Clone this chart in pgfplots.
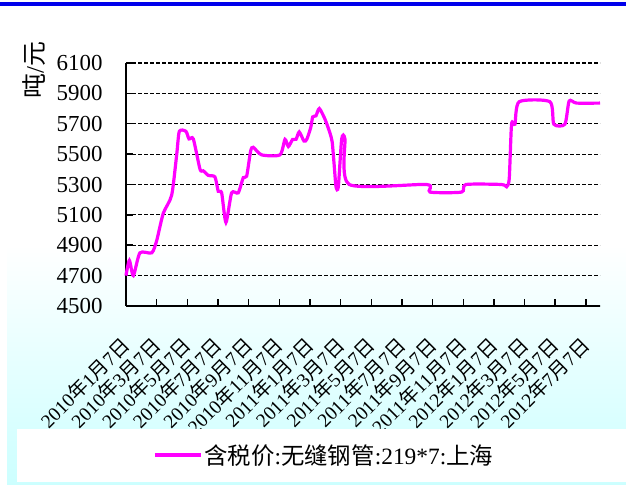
\documentclass[border=0pt]{standalone}
\usepackage{fontspec}
\setmainfont{Liberation Serif}
\newfontfamily\cjk{Noto Sans CJK SC}
\usepackage{pgfplots}
\pgfplotsset{compat=1.18}
\definecolor{mag}{RGB}{255,0,255}
\definecolor{bgcyan}{RGB}{204,255,255}
\definecolor{topblue}{RGB}{0,0,235}
\newcommand\lab[2]{#1{\cjk 年}#2{\cjk 月}7{\cjk 日}}
\begin{document}
\begin{tikzpicture}
\begin{axis}[
  set layers,
  at={(126bp,179bp)}, anchor=south west,
  scale only axis, width=474bp, height=243bp,
  clip=false,
  xmin=0, xmax=30.92, ymin=4500, ymax=6100,
  axis x line=bottom, axis y line=left,
  axis line style={line width=1.5bp, -},
  xtick={0,2,...,30},
  xticklabels={\lab{2010}{1},\lab{2010}{3},\lab{2010}{5},\lab{2010}{7},\lab{2010}{9},\lab{2010}{11},
               \lab{2011}{1},\lab{2011}{3},\lab{2011}{5},\lab{2011}{7},\lab{2011}{9},\lab{2011}{11},
               \lab{2012}{1},\lab{2012}{3},\lab{2012}{5},\lab{2012}{7}},
  ytick={4500,4700,...,6100},
  tick align=inside, major tick length=7bp,
  tick style={line width=1.5bp, black},
  ymajorgrids,
  grid style={black, line width=1.2bp, dash pattern=on 4bp off 2bp},
  /pgf/number format/assume math mode=true,
  /pgf/number format/1000 sep={},
  yticklabel style={font=\fontsize{23}{26}\selectfont, anchor=east, xshift=-20bp},
  xticklabel style={font=\fontsize{19.5}{22}\selectfont, rotate=45, anchor=north east, inner sep=1bp, xshift=-24bp, yshift=-15bp},
  ylabel={{\cjk 吨}/{\cjk 元}},
  every axis y label/.style={at={(rel axis cs:-0.194,0.971)}, rotate=90, anchor=center, font=\fontsize{25}{27}\selectfont},
  legend style={at={(0.057,-0.613)}, anchor=west, inner sep=0pt, draw=none, fill=none,
                font=\fontsize{23.5}{26}\selectfont},
  legend image code/.code={\draw[#1] (0bp,0bp) -- (46bp,0bp);},
]
\begin{pgfonlayer}{axis background}
\shade[top color=white, bottom color=bgcyan] (rel axis cs:-0.251,-0.737) rectangle (rel axis cs:1.1,0.251);
\end{pgfonlayer}
\addplot[mag, line width=3.2bp, smooth, tension=0.4] coordinates {
(0.00,4700) (0.22,4800) (0.48,4700) (0.91,4850) (1.68,4850) (2.00,4930)
(2.43,5110) (2.98,5230) (3.31,5500) (3.48,5650) (3.91,5650) (4.11,5600)
(4.39,5600) (4.83,5400) (5.04,5390) (5.37,5360) (5.80,5350) (6.02,5255)
(6.24,5245) (6.52,5050) (6.89,5245) (7.32,5245) (7.65,5345) (7.87,5355)
(8.13,5520) (8.30,5545) (8.85,5495) (10.04,5495) (10.37,5597) (10.59,5550)
(10.87,5597) (11.09,5597) (11.30,5646) (11.61,5586) (11.79,5597) (12.05,5675)
(12.18,5745) (12.39,5752) (12.61,5800) (12.98,5730) (13.30,5640) (13.45,5580)
(13.57,5440) (13.70,5285) (13.85,5285) (14.07,5600) (14.28,5600) (14.56,5300)
(19.61,5300) (19.83,5250) (21.89,5250) (22.17,5300) (24.50,5300) (24.83,5285)
(25.00,5340) (25.15,5697) (25.37,5697) (25.65,5845) (27.65,5845) (27.91,5697)
(28.63,5697) (28.91,5850) (29.39,5836) (30.92,5836)
};
\addlegendentry{{\cjk 含税价}:{\cjk 无缝钢管}:219*7:{\cjk 上海}}
\fill[white] (rel axis cs:-0.23,-0.724) rectangle (rel axis cs:1.1,-0.506);
\end{axis}
\draw[topblue, line width=4bp] (0bp,481bp) -- (626bp,481bp);
\pgfresetboundingbox
\path[use as bounding box] (0bp,0bp) rectangle (626bp,485bp);
\end{tikzpicture}
\end{document}
